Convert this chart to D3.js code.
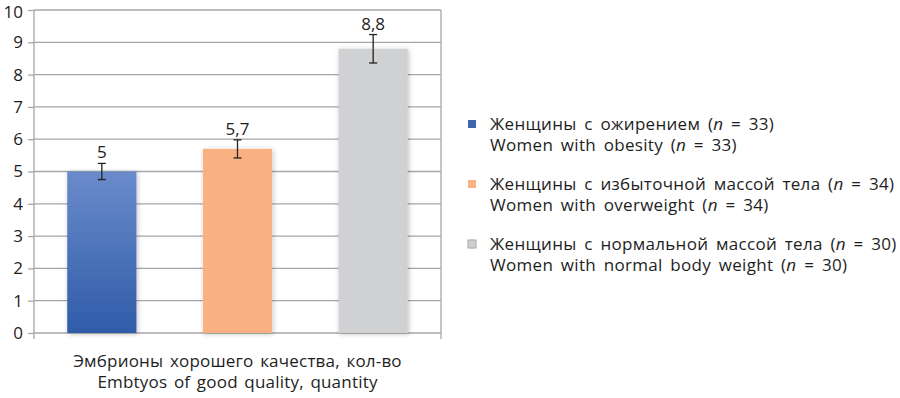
<!DOCTYPE html>
<html lang="ru">
  <head>
    <meta charset="UTF-8" />
    <title>Embryos of good quality</title>
    <script src="https://cdn.jsdelivr.net/npm/d3@7"></script>
    <style>
      body { margin: 0; background: #fff; }
      svg { display: block; font-family: "Open Sans", sans-serif; }
    </style>
  </head>
  <body>
    <svg></svg>
    <script>
      // data
      const groups = ["obesity", "overweight", "normal"];
      const values = [5, 5.7, 8.8];
      const errors = [0.25, 0.28, 0.44];
      const valueLabels = ["5", "5,7", "8,8"];
      const legendRu = [
        "Женщины с ожирением",
        "Женщины с избыточной массой тела",
        "Женщины с нормальной массой тела"
      ];
      const legendEn = [
        "Women with obesity",
        "Women with overweight",
        "Women with normal body weight"
      ];
      const legendN = [33, 34, 30];
      const yTicks = [0, 1, 2, 3, 4, 5, 6, 7, 8, 9, 10];
      const xTitle = ["Эмбрионы хорошего качества, кол-во", "Embtyos of good quality, quantity"];

      let width = 900, height = 398;
      let margin = { left: 34, right: 459, top: 10, bottom: 65 };

      let svg = d3.select("svg").attr("width", width).attr("height", height);

      let defs = svg.append("defs");
      let grad = defs.append("linearGradient")
        .attr("id", "blueGrad")
        .attr("x1", 0).attr("y1", 0).attr("x2", 0).attr("y2", 1);
      grad.append("stop").attr("offset", "0%").attr("stop-color", "#6a8bcb");
      grad.append("stop").attr("offset", "100%").attr("stop-color", "#2f5ca8");

      let shadow = defs.append("filter").attr("id", "shadow")
        .attr("x", "-20%").attr("y", "-20%").attr("width", "140%").attr("height", "140%");
      shadow.append("feDropShadow")
        .attr("dx", 1).attr("dy", 1).attr("stdDeviation", 2.5)
        .attr("flood-color", "#000").attr("flood-opacity", 0.25);

      const fills = ["url(#blueGrad)", "#f9b183", "#d0d1d3"];
      const swatch = ["#3f67b0", "#f9b183", "#d0d1d3"];

      let x = d3.scaleBand()
        .domain(groups)
        .range([margin.left, width - margin.right])
        .paddingInner(0.49)
        .paddingOuter(0.245);

      let y = d3.scaleLinear()
        .domain([0, 10])
        .range([height - margin.bottom, margin.top]);

      // grid
      svg.append("g")
        .selectAll("line")
        .data(yTicks.slice(1))
        .enter()
        .append("line")
        .attr("x1", margin.left).attr("x2", width - margin.right)
        .attr("y1", (d) => y(d)).attr("y2", (d) => y(d))
        .attr("stroke", "#a6a6a6").attr("stroke-width", 1.3);

      // right border
      svg.append("line")
        .attr("x1", width - margin.right).attr("x2", width - margin.right)
        .attr("y1", y(10)).attr("y2", y(0) + 6)
        .attr("stroke", "#a6a6a6").attr("stroke-width", 1.3);

      // y axis
      let yAxis = svg.append("g")
        .attr("transform", "translate(" + margin.left + ",0)")
        .call(d3.axisLeft(y).tickValues(yTicks).tickSize(6).tickPadding(5).tickFormat(d3.format("d")));
      yAxis.selectAll("line").attr("stroke", "#a6a6a6").attr("stroke-width", 1.3);
      yAxis.select(".domain").attr("stroke", "#a6a6a6").attr("stroke-width", 1.3)
        .attr("d", "M0," + (y(0) + 6) + "V" + y(10));
      yAxis.selectAll("text")
        .attr("font-family", "Open Sans, sans-serif")
        .style("font-size", "17px").attr("fill", "#1e1e1e");
      // keep the top label inside the picture
      yAxis.selectAll(".tick").filter((d) => d == 10).select("text").attr("dy", "0.42em");

      // x axis line
      svg.append("line")
        .attr("x1", margin.left).attr("x2", width - margin.right)
        .attr("y1", y(0)).attr("y2", y(0))
        .attr("stroke", "#a6a6a6").attr("stroke-width", 1.3);

      // bars
      svg.append("g")
        .selectAll("rect")
        .data(groups)
        .enter()
        .append("rect")
        .attr("x", (d) => x(d))
        .attr("width", x.bandwidth())
        .attr("y", (d, i) => y(values[i]))
        .attr("height", (d, i) => y(0) - y(values[i]))
        .attr("fill", (d, i) => fills[i])
        .attr("filter", "url(#shadow)");

      // error bars
      let eb = svg.append("g").selectAll("g").data(groups).enter().append("g")
        .attr("stroke", "#222").attr("stroke-width", 1.3);
      eb.append("line")
        .attr("x1", (d) => x(d) + x.bandwidth() / 2)
        .attr("x2", (d) => x(d) + x.bandwidth() / 2)
        .attr("y1", (d, i) => y(values[i] + errors[i]))
        .attr("y2", (d, i) => y(values[i] - errors[i]));
      eb.append("line")
        .attr("x1", (d) => x(d) + x.bandwidth() / 2 - 4)
        .attr("x2", (d) => x(d) + x.bandwidth() / 2 + 4)
        .attr("y1", (d, i) => y(values[i] + errors[i]))
        .attr("y2", (d, i) => y(values[i] + errors[i]));
      eb.append("line")
        .attr("x1", (d) => x(d) + x.bandwidth() / 2 - 4)
        .attr("x2", (d) => x(d) + x.bandwidth() / 2 + 4)
        .attr("y1", (d, i) => y(values[i] - errors[i]))
        .attr("y2", (d, i) => y(values[i] - errors[i]));

      // value labels
      svg.append("g")
        .selectAll("text")
        .data(groups)
        .enter()
        .append("text")
        .attr("x", (d) => x(d) + x.bandwidth() / 2)
        .attr("y", (d, i) => y(values[i] + errors[i]) - 5)
        .attr("text-anchor", "middle")
        .attr("font-size", 17)
        .attr("fill", "#1e1e1e")
        .text((d, i) => valueLabels[i]);

      // x title
      svg.append("g")
        .selectAll("text")
        .data(xTitle)
        .enter()
        .append("text")
        .attr("x", (margin.left + width - margin.right) / 2)
        .attr("y", (d, i) => 367 + i * 21)
        .attr("text-anchor", "middle")
        .attr("font-size", 17)
        .attr("letter-spacing", 0.2)
        .attr("word-spacing", 2)
        .attr("fill", "#1e1e1e")
        .text((d) => d);

      // legend
      let legend = svg.append("g").selectAll("g").data(groups).enter().append("g")
        .attr("transform", (d, i) => "translate(468," + (124 + i * 60) + ")");
      legend.append("rect")
        .attr("x", 0).attr("y", -4).attr("width", 8).attr("height", 8)
        .attr("fill", (d, i) => swatch[i])
        .attr("stroke", (d, i) => (i == 2 ? "#a6a6a6" : "none"));
      let addLine = function (sel, txt, dy) {
        let t = sel.append("text")
          .attr("x", 22).attr("y", dy + 6)
          .attr("font-size", 17).attr("letter-spacing", 0.3).attr("word-spacing", 3)
          .attr("fill", "#1e1e1e");
        t.append("tspan").text((d, i) => txt[i] + " (");
        t.append("tspan").attr("font-style", "italic").text("n");
        t.append("tspan").text((d, i) => " = " + legendN[i] + ")");
      };
      addLine(legend, legendRu, 0);
      addLine(legend, legendEn, 21);
    </script>
  </body>
</html>
